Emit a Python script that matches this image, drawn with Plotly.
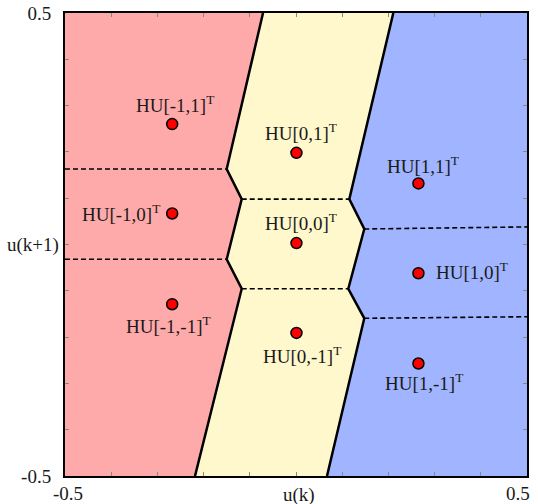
import plotly.graph_objects as go

# ---- data ----
pt_names = ["HU[-1,1]", "HU[-1,0]", "HU[-1,-1]",
            "HU[0,1]", "HU[0,0]", "HU[0,-1]",
            "HU[1,1]", "HU[1,0]", "HU[1,-1]"]
pt_x = [-0.268, -0.268, -0.268, 0.001, 0.001, 0.001, 0.265, 0.265, 0.265]
pt_y = [0.260, 0.067, -0.129, 0.198, 0.003, -0.191, 0.132, -0.062, -0.257]

# boundary between left (pink) and middle (yellow) regions, top to bottom
left_bx = [-0.0714, -0.150, -0.1175, -0.150, -0.1175, -0.2186]
left_by = [0.5, 0.163, 0.098, -0.032, -0.0955, -0.5]
# boundary between middle (yellow) and right (blue) regions, top to bottom
right_bx = [0.2106, 0.1154, 0.1478, 0.1132, 0.1478, 0.0671]
right_by = [0.5, 0.098, 0.0335, -0.0955, -0.1594, -0.5]

# dashed horizontal separators
dash_x0 = [-0.5, -0.5, -0.1175, -0.1175, 0.1478, 0.1478]
dash_x1 = [-0.150, -0.150, 0.1154, 0.1132, 0.5, 0.5]
dash_y0 = [0.163, -0.032, 0.098, -0.0955, 0.0335, -0.1594]
dash_y1 = [0.163, -0.032, 0.098, -0.0955, 0.038, -0.156]

tick_vals = [-0.5, -0.4, -0.3, -0.2, -0.1, 0.0, 0.1, 0.2, 0.3, 0.4, 0.5]
y_tick_text = ["-0.5", "", "", "", "", "", "", "", "", "", "0.5"]
x_end_labels = ["-0.5", "0.5"]
x_end_vals = [-0.5, 0.5]

# ---- styling ----
PINK = "#ffaaaa"
YELLOW = "#fff8cc"
BLUE = "#a0b4ff"
FONT = "Liberation Serif"
TXT = "#1a1a1a"
FS = 19

fig = go.Figure()

# filled regions
fig.add_trace(go.Scatter(
    x=[-0.5] + left_bx + [-0.5], y=[0.5] + left_by + [-0.5],
    fill="toself", fillcolor=PINK, line=dict(width=0), mode="lines",
    hoverinfo="skip", showlegend=False))
fig.add_trace(go.Scatter(
    x=left_bx + right_bx[::-1], y=left_by + right_by[::-1],
    fill="toself", fillcolor=YELLOW, line=dict(width=0), mode="lines",
    hoverinfo="skip", showlegend=False))
fig.add_trace(go.Scatter(
    x=right_bx + [0.5, 0.5], y=right_by + [-0.5, 0.5],
    fill="toself", fillcolor=BLUE, line=dict(width=0), mode="lines",
    hoverinfo="skip", showlegend=False))

# dashed separators
for x0, x1, y0, y1 in zip(dash_x0, dash_x1, dash_y0, dash_y1):
    fig.add_trace(go.Scatter(
        x=[x0, x1], y=[y0, y1], mode="lines",
        line=dict(color="black", width=1.6, dash="5px,3px"),
        hoverinfo="skip", showlegend=False))

# solid boundaries
for bx, by in ((left_bx, left_by), (right_bx, right_by)):
    fig.add_trace(go.Scatter(
        x=bx, y=by, mode="lines",
        line=dict(color="black", width=2.5),
        hoverinfo="skip", showlegend=False))

# lattice points
fig.add_trace(go.Scatter(
    x=pt_x, y=pt_y, mode="markers",
    marker=dict(size=11, color="#ff0000", line=dict(color="black", width=1.5)),
    hoverinfo="skip", showlegend=False))

# label placement: (xanchor, xshift, yshift) per point
placement = [("center", 3, 20), ("right", -10, 0), ("center", -4, -21),
             ("center", 5, 21), ("center", 5, 21), ("center", 6, -22),
             ("center", 5, 18), ("left", 16, 2), ("center", 6, -19)]

for name, x, y, (xa, xs, ys) in zip(pt_names, pt_x, pt_y, placement):
    fig.add_annotation(
        x=x, y=y, xref="x", yref="y", text=name + "<sup>T</sup>",
        showarrow=False, xanchor=xa, yanchor="middle",
        xshift=xs, yshift=ys,
        font=dict(family=FONT, size=FS, color=TXT))

# x-axis end labels
for val, lab, xs in zip(x_end_vals, x_end_labels, [3, -9]):
    fig.add_annotation(x=val, y=-0.5, xref="x", yref="y", text=lab,
                       showarrow=False, yanchor="middle", yshift=-17, xshift=xs,
                       font=dict(family=FONT, size=FS, color=TXT))

# axis titles as annotations
fig.add_annotation(x=0.0, y=-0.5, xref="x", yref="y", text="u(k)",
                   showarrow=False, yanchor="middle", yshift=-19, xshift=3,
                   font=dict(family=FONT, size=FS, color=TXT))
fig.add_annotation(x=-0.5, y=0.0, xref="x", yref="y", text="u(k+1)",
                   showarrow=False, xanchor="right", yanchor="middle", xshift=-4,
                   font=dict(family=FONT, size=FS, color=TXT))

axis_common = dict(
    range=[-0.5, 0.5], tickvals=tick_vals,
    ticks="inside", ticklen=4, tickcolor="#888", tickwidth=1,
    showline=True, linecolor="black", linewidth=2, mirror="allticks",
    showgrid=False, zeroline=False, automargin=False,
    tickfont=dict(family=FONT, size=FS, color=TXT),
)

fig.update_layout(
    width=538, height=504,
    margin=dict(l=65, r=11, t=13, b=28),
    paper_bgcolor="white", plot_bgcolor="white",
    xaxis=dict(**axis_common, showticklabels=False),
    yaxis=dict(**axis_common, ticktext=y_tick_text, ticklabelstandoff=8),
    showlegend=False,
)

fig.write_html("out.html")
